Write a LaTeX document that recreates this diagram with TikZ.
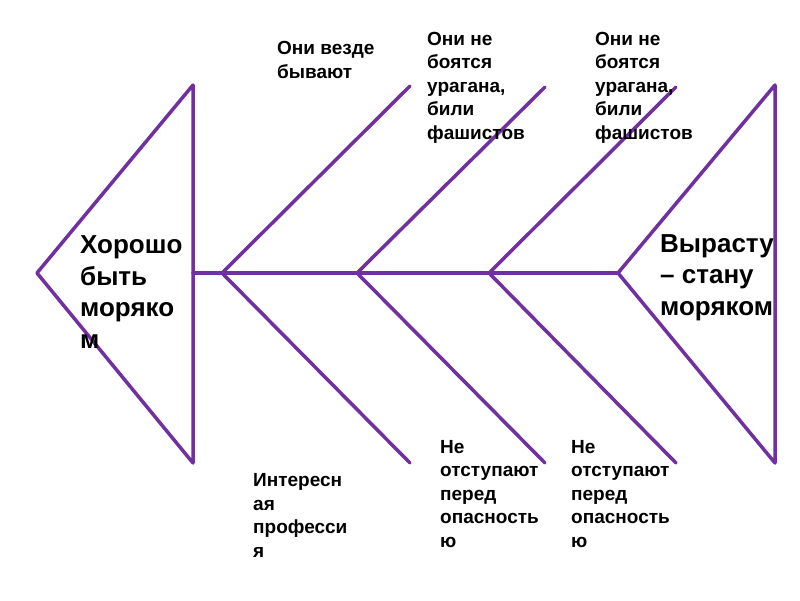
\documentclass[tikz,border=0pt]{standalone}
\usepackage{fontspec}
\setmainfont{Liberation Sans}
\definecolor{bonepurple}{HTML}{7030A0}
\begin{document}
\begin{tikzpicture}[x=1pt,y=-1pt,
  bone/.style={draw=bonepurple,line width=3.5pt,line join=round,line cap=round},
  small/.style={anchor=base west,inner sep=0pt,align=left,font=\bfseries\fontsize{19}{23.5}\selectfont},
  big/.style={anchor=base west,inner sep=0pt,align=left,font=\bfseries\fontsize{26}{31.5}\selectfont}]
\useasboundingbox (0,0) rectangle (800,600);
% coordinates
\coordinate (LA) at (37,273);
\coordinate (LT) at (193,85);
\coordinate (LB) at (193,463);
\coordinate (LM) at (193,273);
\coordinate (RA) at (618,273);
\coordinate (RT) at (775,85);
\coordinate (RB) at (775,463);
\coordinate (J1) at (222,273);
\coordinate (J2) at (357,273);
\coordinate (J3) at (489,273);
\coordinate (T1) at (410,86);
\coordinate (T2) at (545,87);
\coordinate (T3) at (676,87);
\coordinate (B1) at (410,463);
\coordinate (B2) at (545,463);
\coordinate (B3) at (676,463);
% head / tail
\draw[bone] (LT) -- (LA) -- (LB) -- cycle;
\draw[bone] (RT) -- (RA) -- (RB) -- cycle;
% spine
\draw[bone] (LM) -- (RA);
% bones
\draw[bone] (J1) -- (T1);
\draw[bone] (J2) -- (T2);
\draw[bone] (J3) -- (T3);
\draw[bone] (J1) -- (B1);
\draw[bone] (J2) -- (B2);
\draw[bone] (J3) -- (B3);
% texts (anchored at the baseline of the last line)
\node[big] (head) at (80,348) {Хорошо\\быть\\моряко\\м};
\node[big] (tail) at (660,315) {Вырасту\\– стану\\моряком};
\node[small] (t1) at (277,78) {Они везде\\бывают};
\node[small] (t2) at (427,139) {Они не\\боятся\\урагана,\\били\\фашистов};
\node[small] (t3) at (595,139) {Они не\\боятся\\урагана,\\били\\фашистов};
\node[small] (b1) at (253,557) {Интересн\\ая\\професси\\я};
\node[small] (b2) at (440,547) {Не\\отступают\\перед\\опасность\\ю};
\node[small] (b3) at (571,547) {Не\\отступают\\перед\\опасность\\ю};
\end{tikzpicture}
\end{document}
